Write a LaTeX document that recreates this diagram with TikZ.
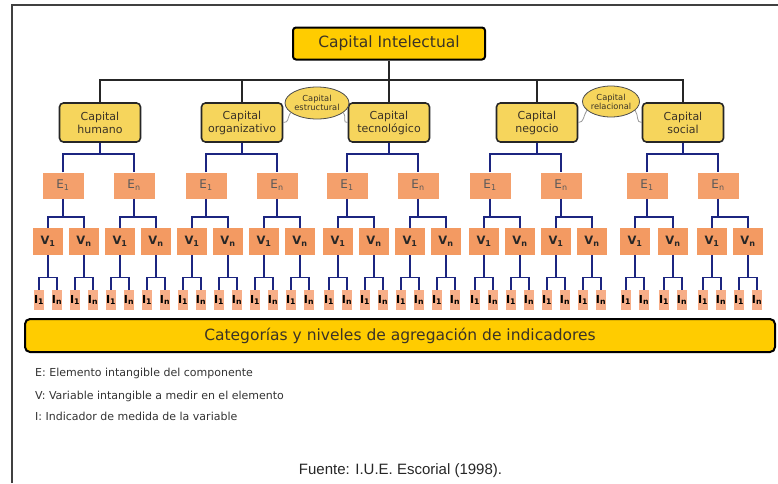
\documentclass[tikz,border=0pt]{standalone}
\usepackage{fontspec}
\setmainfont{DejaVu Sans}
\newfontfamily\footfont{Liberation Sans}
\usetikzlibrary{shapes.geometric,calc}
\definecolor{gold}{HTML}{FFCC00}
\definecolor{capfill}{HTML}{F6D55C}
\definecolor{efill}{HTML}{F4A06C}
\definecolor{vfill}{HTML}{F39A62}
\definecolor{ifill}{HTML}{F7AE88}
\definecolor{navy}{HTML}{1C2580}
\definecolor{txtdark}{HTML}{3B3326}
\tikzset{
 topbox/.style={draw=black, line width=2pt, fill=gold, rounded corners=3pt, minimum width=192pt, minimum height=32pt, inner sep=0pt, font=\fontsize{15.5}{17}\selectfont, text=txtdark},
 capbox/.style={draw=black!85, line width=1.6pt, fill=capfill, rounded corners=4pt, minimum width=81pt, minimum height=39pt, inner sep=0pt, align=center, font=\fontsize{11}{13}\selectfont, text=txtdark},
 capell/.style={ellipse, draw=black!70, line width=0.8pt, fill=capfill, inner sep=0pt, align=center, font=\fontsize{8.3}{9}\selectfont, text=txtdark},
 ebox/.style={fill=efill, minimum width=41pt, minimum height=26pt, inner sep=0pt, font=\fontsize{12}{13}\selectfont, text=black!65},
 vbox/.style={fill=vfill, minimum width=30pt, minimum height=27pt, inner sep=0pt, font=\bfseries\fontsize{11.5}{12}\selectfont, text=black!85},
 ibox/.style={fill=ifill, minimum width=8pt, minimum height=20pt, inner sep=0pt, font=\bfseries\fontsize{11}{12}\selectfont},
 barbox/.style={draw=black, line width=2pt, fill=gold, rounded corners=5pt, minimum width=750pt, minimum height=33pt, inner sep=0pt, font=\fontsize{15.5}{17}\selectfont, text=txtdark},
 legend/.style={anchor=base west, inner sep=0pt, font=\fontsize{11}{13}\selectfont, text=black!80},
 treeline/.style={draw=black!85, line width=1.5pt},
 blueline/.style={draw=navy, line width=1.8pt},
 ilink/.style={draw=navy, line width=1.3pt},
 grayline/.style={draw=black!40, line width=0.8pt},
}
\begin{document}
\begin{tikzpicture}[x=1pt,y=-1pt]
\path[use as bounding box] (0,0) rectangle (778,483);
\fill[white] (0,0) rectangle (778,483);
\draw[black!75, line width=1.2pt] (12,483) -- (12,5) -- (778,5);

% top
\node[topbox] (ci) at (389,43.5) {Capital Intelectual};
\node[capbox] (ch) at (100,122.5) {Capital\\humano};
\node[capbox] (co) at (242,122.5) {Capital\\organizativo};
\node[capbox] (ct) at (389,122.5) {Capital\\tecnológico};
\node[capbox] (cn) at (537,122.5) {Capital\\negocio};
\node[capbox] (cs) at (683,122.5) {Capital\\social};
\node[capell, minimum width=63pt, minimum height=32pt] (ce) at (317,103) {Capital\\estructural};
\node[capell, minimum width=57pt, minimum height=31pt] (cr) at (611,101.5) {Capital\\relacional};

\draw[treeline] (ci.south) -- (ct.north);
\draw[treeline] (ch.north) -- ++(0,-22) coordinate (tj) -| (cs.north);
\draw[treeline] (co.north) -- (co.north |- tj);
\draw[treeline] (cn.north) -- (cn.north |- tj);

\draw[grayline] (ce.200) .. controls +(-4,6) and +(6,0) .. (co.east);
\draw[grayline] (ce.340) .. controls +(4,6) and +(-6,0) .. (ct.west);
\draw[grayline] (cr.200) .. controls +(-4,6) and +(6,0) .. (cn.east);
\draw[grayline] (cr.340) .. controls +(4,6) and +(-6,0) .. (cs.west);

% E level
\foreach \c/\ea/\eb/\xa/\xb in {ch/e1/e2/63/134, co/e3/e4/206/277, ct/e5/e6/347/418, cn/e7/e8/490/561, cs/e9/e10/647/718} {
  \node[ebox] (\ea) at (\xa,185.5) {E\textsubscript{1}};
  \node[ebox] (\eb) at (\xb,185.5) {E\textsubscript{n}};
  \draw[blueline] (\ea.north) -- ++(0,-18) coordinate (\ea-j) -| (\eb.north);
  \draw[blueline] (\c.south) -- (\c.south |- \ea-j);
}

% V and I levels
\foreach \e/\xa/\xb [count=\k] in {e1/48/84, e2/120/156, e3/192/228, e4/264/300, e5/338/374, e6/410/446, e7/484/520, e8/556/592, e9/635/673, e10/712/748} {
  \node[vbox] (va\k) at (\xa,241.5) {V\textsubscript{1}};
  \node[vbox] (vb\k) at (\xb,241.5) {V\textsubscript{n}};
  \draw[blueline] (va\k.north) -- ++(0,-11) coordinate (vj\k) -| (vb\k.north);
  \draw[blueline] (\e.south) -- (\e.south |- vj\k);
  \foreach \s/\x in {a/\xa, b/\xb} {
    \node[ibox] (i\s\k l) at (\x-9,300) {I\textsubscript{1}};
    \node[ibox] (i\s\k r) at (\x+9,300) {I\textsubscript{n}};
    \draw[ilink] (i\s\k l.north) -- ++(0,-12) coordinate (ij\s\k) -| (i\s\k r.north);
    \draw[ilink] (v\s\k.south) -- (v\s\k.south |- ij\s\k);
  }
}

% bottom bar
\node[barbox] (cat) at (400,335.5) {Categorías y niveles de agregación de indicadores};

% legend
\node[legend] (l1) at (35,376) {E: Elemento intangible del componente};
\node[legend] (l2) at (35,399) {V: Variable intangible a medir en el elemento};
\node[legend] (l3) at (35,420) {I: Indicador de medida de la variable};

% footer
\node[anchor=base, inner sep=0pt, font=\footfont\fontsize{15}{17}\selectfont, text=black!85] (src) at (400.5,474) {Fuente: I.U.E. Escorial (1998).};
\end{tikzpicture}
\end{document}
